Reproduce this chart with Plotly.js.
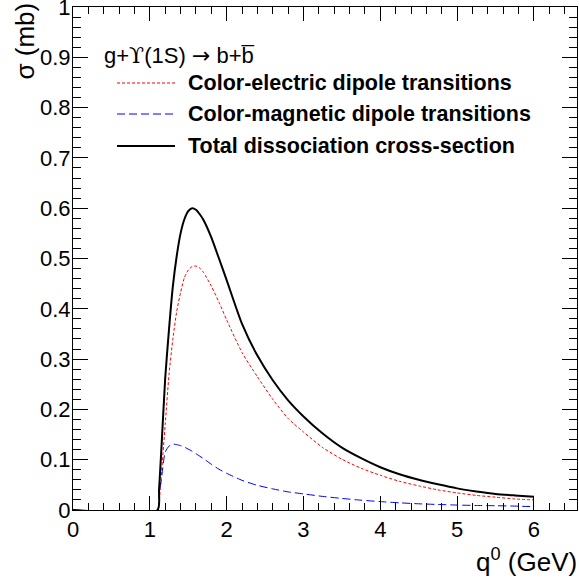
<!DOCTYPE html>
<html>
<head>
<meta charset="utf-8">
<script src="https://cdn.plot.ly/plotly-3.0.1.min.js"></script>
<style>html,body{margin:0;padding:0;background:#fff;}#chart{width:579px;height:579px;}</style>
</head>
<body>
<div id="chart"></div>
<script>
// q0 (GeV)
const q0 = [0, 1.1, 1.12, 1.15, 1.2, 1.25, 1.3, 1.35, 1.4, 1.45, 1.5, 1.55, 1.6, 1.65, 1.7, 1.8, 1.9, 2.0, 2.2, 2.4, 2.6, 2.8, 3.0, 3.25, 3.5, 3.75, 4.0, 4.25, 4.5, 4.75, 5.0, 5.25, 5.5, 5.75, 6.0];
// Color-electric dipole transitions (mb)
const sigmaElectric = [0, 0, 0.015, 0.07, 0.17, 0.27, 0.34, 0.395, 0.432, 0.462, 0.477, 0.484, 0.485, 0.481, 0.472, 0.445, 0.413, 0.378, 0.313, 0.265, 0.220, 0.182, 0.155, 0.124, 0.101, 0.083, 0.069, 0.057, 0.048, 0.040, 0.034, 0.029, 0.0255, 0.022, 0.020];
// Color-magnetic dipole transitions (mb)
const sigmaMagnetic = [0, 0, 0.03, 0.06, 0.115, 0.127, 0.131, 0.130, 0.128, 0.125, 0.121, 0.117, 0.112, 0.107, 0.102, 0.091, 0.081, 0.073, 0.059, 0.049, 0.042, 0.036, 0.032, 0.027, 0.023, 0.0195, 0.0167, 0.0143, 0.0123, 0.011, 0.0098, 0.009, 0.0085, 0.0078, 0.0066];
// Total dissociation cross-section (mb)
const sigmaTotal = [0, 0, 0.04, 0.12, 0.262, 0.36, 0.445, 0.505, 0.55, 0.578, 0.594, 0.600, 0.597, 0.588, 0.576, 0.542, 0.500, 0.457, 0.370, 0.307, 0.258, 0.218, 0.186, 0.152, 0.124, 0.103, 0.085, 0.071, 0.060, 0.051, 0.043, 0.037, 0.032, 0.029, 0.0265];
// y tick values
const yTicks = [0, 0.1, 0.2, 0.3, 0.4, 0.5, 0.6, 0.7, 0.8, 0.9, 1];
const yTickText = ["0", "0.1", "0.2", "0.3", "0.4", "0.5", "0.6", "0.7", "0.8", "0.9", "1"];

const legendLabels = ["Color-electric dipole transitions", "Color-magnetic dipole transitions", "Total dissociation cross-section"];
const headerText = "g+<span style=\"font-family:'DejaVu Serif'\">\u03D2</span>(1S) <span style=\"font-family:'DejaVu Sans'\">\u2192</span> b+b\u0305";

const L = 73, R = 577, T = 7, B = 510, W = 579, H = 579;
const px2x = p => (p - L) / (R - L);
const py2y = p => (B - p) / (B - T);

const font = "Liberation Sans, Arial, Helvetica, sans-serif";

const traces = [
  {x: q0, y: sigmaElectric, mode: 'lines', line: {color: '#ff0000', width: 1, dash: '3px,2px', shape: 'spline', smoothing: 0.6}, name: legendLabels[0]},
  {x: q0, y: sigmaMagnetic, mode: 'lines', line: {color: '#0000ff', width: 1, dash: '8px,4px', shape: 'spline', smoothing: 0.6}, name: legendLabels[1]},
  {x: q0, y: sigmaTotal, mode: 'lines', line: {color: '#000000', width: 2, shape: 'spline', smoothing: 0.6}, name: legendLabels[2]}
];

const legendStyles = [
  {color: '#ff0000', width: 1, dash: '3px,2px'},
  {color: '#0000ff', width: 1, dash: '8px,4px'},
  {color: '#000000', width: 2, dash: 'solid'}
];
const legendY = [83, 114, 146];

const shapes = legendStyles.map((s, i) => ({
  type: 'line', xref: 'paper', yref: 'paper',
  x0: px2x(117), x1: px2x(175), y0: py2y(legendY[i]), y1: py2y(legendY[i]),
  line: s
}));

const annotations = legendLabels.map((t, i) => ({
  text: '<b>' + t + '</b>', xref: 'paper', yref: 'paper',
  x: px2x(186), y: py2y(legendY[i]), xanchor: 'left', yanchor: 'middle',
  showarrow: false, font: {family: font, size: 21.5, color: '#000'}
}));
annotations.push({
  text: headerText, xref: 'paper', yref: 'paper',
  x: px2x(102), y: py2y(55), xanchor: 'left', yanchor: 'middle',
  showarrow: false, font: {family: font, size: 22, color: '#000'}
});
annotations.push({
  text: '\u03C3 (mb)', xref: 'paper', yref: 'paper', textangle: -90,
  x: px2x(24), y: py2y(1), xanchor: 'center', yanchor: 'top',
  showarrow: false, font: {family: font, size: 26, color: '#000'}
});
annotations.push({
  text: 'q<sup>0</sup> (GeV)', xref: 'paper', yref: 'paper',
  x: px2x(579), y: py2y(560), xanchor: 'right', yanchor: 'middle',
  showarrow: false, font: {family: font, size: 26, color: '#000'}
});

const axisCommon = {
  showgrid: false, zeroline: false, showline: true, linecolor: '#000', linewidth: 1,
  mirror: 'ticks', ticks: 'inside', tickcolor: '#000', tickwidth: 1,
  ticklabeloverflow: 'allow',
  tickfont: {family: font, size: 22, color: '#000'}
};

const layout = {
  width: W, height: H,
  margin: {l: L, r: W - R, t: T, b: H - B, pad: 0},
  paper_bgcolor: '#fff', plot_bgcolor: '#fff',
  showlegend: false,
  xaxis: Object.assign({}, axisCommon, {
    range: [0, (R - L) / 76.83], tick0: 0, dtick: 1, ticklen: 14,
    minor: {dtick: 0.2, ticks: 'inside', ticklen: 7, tickcolor: '#000', tickwidth: 1, showgrid: false}
  }),
  yaxis: Object.assign({}, axisCommon, {
    range: [0, 1], tickmode: 'array', tickvals: yTicks, ticktext: yTickText, ticklen: 15,
    tickfont: {family: font, size: 22, color: '#000'}, ticklabelstandoff: -3,
    minor: {tickmode: 'linear', tick0: 0, dtick: 0.02, ticks: 'inside', ticklen: 8, tickcolor: '#000', tickwidth: 1, showgrid: false}
  }),
  shapes: shapes,
  annotations: annotations
};

Plotly.newPlot('chart', traces, layout, {staticPlot: true, displayModeBar: false});
</script>
</body>
</html>
